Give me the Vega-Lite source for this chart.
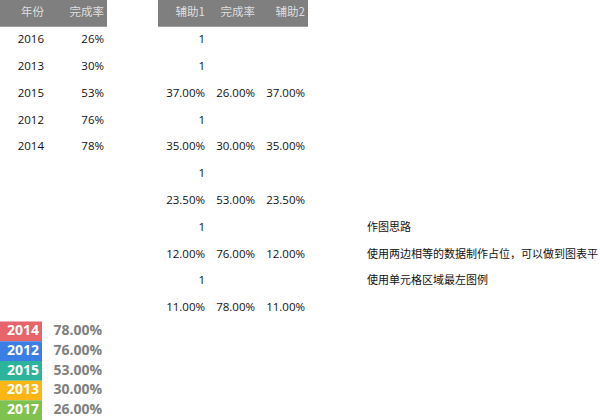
{
  "$schema": "https://vega.github.io/schema/vega-lite/v6.json",
  "autosize": {"type": "fit", "contains": "padding"},
  "width": 600,
  "height": 420,
  "padding": 0,
  "background": "white",
  "datasets": {
    "bands": [
      {"colStart": 0, "colEnd": 2},
      {"colStart": 3, "colEnd": 6}
    ],
    "headers": [
      {"row": 1, "col": 1, "text": "年份"},
      {"row": 1, "col": 2, "text": "完成率"},
      {"row": 1, "col": 4, "text": "辅助1"},
      {"row": 1, "col": 5, "text": "完成率"},
      {"row": 1, "col": 6, "text": "辅助2"}
    ],
    "cells": [
      {"row": 2, "col": 1, "text": "2016"},
      {"row": 2, "col": 2, "text": "26%"},
      {"row": 2, "col": 4, "text": "1"},
      {"row": 3, "col": 1, "text": "2013"},
      {"row": 3, "col": 2, "text": "30%"},
      {"row": 3, "col": 4, "text": "1"},
      {"row": 4, "col": 1, "text": "2015"},
      {"row": 4, "col": 2, "text": "53%"},
      {"row": 4, "col": 4, "text": "37.00%"},
      {"row": 4, "col": 5, "text": "26.00%"},
      {"row": 4, "col": 6, "text": "37.00%"},
      {"row": 5, "col": 1, "text": "2012"},
      {"row": 5, "col": 2, "text": "76%"},
      {"row": 5, "col": 4, "text": "1"},
      {"row": 6, "col": 1, "text": "2014"},
      {"row": 6, "col": 2, "text": "78%"},
      {"row": 6, "col": 4, "text": "35.00%"},
      {"row": 6, "col": 5, "text": "30.00%"},
      {"row": 6, "col": 6, "text": "35.00%"},
      {"row": 7, "col": 4, "text": "1"},
      {"row": 8, "col": 4, "text": "23.50%"},
      {"row": 8, "col": 5, "text": "53.00%"},
      {"row": 8, "col": 6, "text": "23.50%"},
      {"row": 9, "col": 4, "text": "1"},
      {"row": 10, "col": 4, "text": "12.00%"},
      {"row": 10, "col": 5, "text": "76.00%"},
      {"row": 10, "col": 6, "text": "12.00%"},
      {"row": 11, "col": 4, "text": "1"},
      {"row": 12, "col": 4, "text": "11.00%"},
      {"row": 12, "col": 5, "text": "78.00%"},
      {"row": 12, "col": 6, "text": "11.00%"}
    ],
    "notes": [
      {"row": 9, "col": 8, "text": "作图思路"},
      {"row": 10, "col": 8, "text": "使用两边相等的数据制作占位，可以做到图表平均分布"},
      {"row": 11, "col": 8, "text": "使用单元格区域最左图例"}
    ],
    "legend": [
      {"year": "2014", "rate": "78.00%"},
      {"year": "2012", "rate": "76.00%"},
      {"year": "2015", "rate": "53.00%"},
      {"year": "2013", "rate": "30.00%"},
      {"year": "2017", "rate": "26.00%"}
    ]
  },
  "resolve": {"scale": {"y": "independent"}},
  "layer": [
    {
      "layer": [
        {
          "data": {"name": "bands"},
          "mark": {"type": "rect", "color": "#7f7f7f"},
          "encoding": {
            "x": {"field": "colStart", "type": "quantitative"},
            "x2": {"field": "colEnd"},
            "y": {"datum": 0.5, "type": "quantitative"},
            "y2": {"datum": 1.5}
          }
        },
        {
          "data": {"name": "headers"},
          "mark": {"type": "text", "align": "right", "baseline": "middle", "dx": -3, "fontSize": 11.5, "color": "#dedede", "font": "Noto Sans CJK SC"},
          "encoding": {
            "x": {"field": "col", "type": "quantitative"},
            "y": {"field": "row", "type": "quantitative"},
            "text": {"field": "text"}
          }
        },
        {
          "data": {"name": "cells"},
          "mark": {"type": "text", "align": "right", "baseline": "middle", "dx": -3, "fontSize": 11.5, "color": "#111111", "font": "Open Sans"},
          "encoding": {
            "x": {"field": "col", "type": "quantitative"},
            "y": {"field": "row", "type": "quantitative"},
            "text": {"field": "text"}
          }
        },
        {
          "data": {"name": "notes"},
          "mark": {"type": "text", "align": "left", "baseline": "middle", "dx": -41, "fontSize": 11, "color": "#111111", "font": "Noto Sans CJK SC", "limit": 241, "ellipsis": "\u200b"},
          "encoding": {
            "x": {"field": "col", "type": "quantitative"},
            "y": {"field": "row", "type": "quantitative"},
            "text": {"field": "text"}
          }
        }
      ],
      "encoding": {
        "x": {
          "type": "quantitative",
          "scale": {"domain": [0, 1, 2, 3, 12], "range": [0, 47, 107, 158, 608], "zero": false, "nice": false},
          "axis": null
        },
        "y": {
          "type": "quantitative",
          "scale": {"domain": [0.5, 12.5], "range": [0, 321.6], "zero": false, "nice": false},
          "axis": null
        }
      }
    },
    {
      "data": {"name": "legend"},
      "layer": [
        {
          "mark": {"type": "rect", "x2Offset": -5},
          "encoding": {
            "x": {"datum": 0, "type": "quantitative"},
            "x2": {"datum": 1},
            "color": {
              "field": "year",
              "type": "nominal",
              "scale": {
                "domain": ["2014", "2012", "2015", "2013", "2017"],
                "range": ["#e8646b", "#3b7fe6", "#2bb39b", "#fbb515", "#7fc24e"]
              },
              "legend": null
            }
          }
        },
        {
          "mark": {"type": "text", "align": "center", "baseline": "middle", "dx": 23, "fontSize": 14, "fontWeight": "bold", "color": "white", "font": "Open Sans"},
          "encoding": {
            "x": {"datum": 0, "type": "quantitative"},
            "text": {"field": "year"}
          }
        },
        {
          "mark": {"type": "text", "align": "right", "baseline": "middle", "dx": -5, "fontSize": 14, "fontWeight": "bold", "color": "#808080", "font": "Open Sans"},
          "encoding": {
            "x": {"datum": 2, "type": "quantitative"},
            "text": {"field": "rate"}
          }
        }
      ],
      "encoding": {
        "y": {
          "field": "year",
          "type": "nominal",
          "sort": null,
          "scale": {"domain": ["2014", "2012", "2015", "2013", "2017"], "range": [321.6, 420], "paddingInner": 0, "paddingOuter": 0},
          "axis": null
        }
      }
    }
  ],
  "config": {
    "view": {"stroke": null},
    "axis": {"grid": false}
  }
}
